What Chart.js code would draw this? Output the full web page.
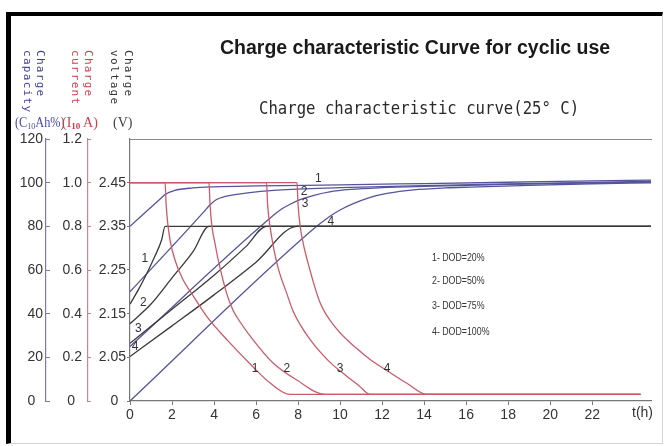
<!DOCTYPE html>
<html><head><meta charset="utf-8">
<script src="https://cdn.jsdelivr.net/npm/chart.js@4"></script>
<style>
html,body{margin:0;padding:0;background:#fff;}
#wrap{position:relative;width:665px;height:446px;overflow:hidden;background:#fff;}
#frame{position:absolute;left:6px;top:12px;width:651px;height:427px;border-top:4px solid #000;border-left:5px solid #000;border-right:1px solid #d4d4d4;border-bottom:1px solid #d4d4d4;}
canvas{position:absolute;left:0;top:0;}
.t{position:absolute;white-space:nowrap;}
.title{left:220px;top:38px;font:bold 19.5px "Liberation Sans",Arial,sans-serif;line-height:19.5px;color:#1a1a1a;}
.sub{left:259px;top:99.6px;font:17px "DejaVu Sans Mono",monospace;line-height:17px;color:#2a2a2a;transform:scaleX(0.92);transform-origin:0 0;}
.vt{position:absolute;top:50px;writing-mode:vertical-rl;font:11px "DejaVu Sans Mono",monospace;letter-spacing:1.3px;line-height:13px;white-space:nowrap;}
.un{position:absolute;top:115px;font:14px "Liberation Serif","Times New Roman",serif;line-height:16px;white-space:nowrap;}
.un sub{font-size:9px;vertical-align:-2px;line-height:0;}
.dod{position:absolute;left:432px;font:11px "Liberation Sans",Arial,sans-serif;line-height:12px;color:#333;transform:scaleX(0.8);transform-origin:0 0;white-space:nowrap;}
</style></head>
<body>
<div id="wrap">
<div id="frame"></div>
<canvas id="c" width="665" height="446"></canvas>
<div class="t title">Charge characteristic Curve for cyclic use</div>
<div class="t sub">Charge characteristic curve(25° C)</div>
<div class="vt" style="left:34px;color:#3f3f8f">Charge</div>
<div class="vt" style="left:20.5px;color:#3f3f8f">capacity</div>
<div class="vt" style="left:81.5px;color:#d04050">Charge</div>
<div class="vt" style="left:68.5px;color:#d04050">current</div>
<div class="vt" style="left:122px;color:#333">Charge</div>
<div class="vt" style="left:107.5px;color:#333">voltage</div>
<div class="un" style="left:15px;color:#4a4aa0;transform:scaleX(0.88);transform-origin:0 0">(C<sub>10</sub>Ah%)</div>
<div class="un" style="left:62px;color:#d03c4c">(I<sub><b>10</b></sub> A)</div>
<div class="un" style="left:113px;color:#444">(V)</div>
<div class="dod" style="top:250.5px">1- DOD=20%</div>
<div class="dod" style="top:274px">2- DOD=50%</div>
<div class="dod" style="top:298.5px">3- DOD=75%</div>
<div class="dod" style="top:324.5px">4- DOD=100%</div>
</div>
<script>
// ---- tick values / labels ----
const X_TICKS = [0,2,4,6,8,10,12,14,16,18,20,22];
const CAP_TICKS = [0,20,40,60,80,100,120];
const CAP_TICK_LABELS = ['0  ','20','40','60','80','100','120'];
const CUR_TICKS = [0,0.2,0.4,0.6,0.8,1.0,1.2];
const CUR_TICK_LABELS = ['0\u2002','0.2','0.4','0.6','0.8','1.0','1.2'];
const VOLT_TICKS = [1.95,2.05,2.15,2.25,2.35,2.45];
const VOLT_TICK_LABELS = ['0  ','2.05','2.15','2.25','2.35','2.45'];

// ---- charge current (I10 A) ----
const cur1T = [0,1.67,1.72,1.8,1.92,2.14,2.5,2.95,3.67,4.62,5.86,6.67,7.62,24.3];
const cur1I = [1.0,1.0,0.9,0.81,0.73,0.646,0.56,0.49,0.385,0.28,0.156,0.082,0.03,0.03];
const cur2T = [0,3.76,3.81,3.9,4.05,4.2,4.6,4.9,5.08,5.86,6.81,7.94,9.29,24.3];
const cur2I = [1.0,1.0,0.9,0.8,0.72,0.646,0.493,0.417,0.386,0.28,0.174,0.096,0.03,0.03];
const cur3T = [0,6.5,6.55,6.65,6.8,7.05,7.46,7.75,8.1,8.55,9.05,9.6,10.3,10.9,11.43,24.3];
const cur3I = [1.0,1.0,0.9,0.81,0.72,0.61,0.493,0.415,0.35,0.285,0.225,0.17,0.115,0.07,0.03,0.03];
const cur4T = [0,7.95,8.0,8.1,8.25,8.48,9.05,9.84,10.8,11.43,12.3,13.2,14.13,24.3];
const cur4I = [1.0,1.0,0.9,0.8,0.72,0.63,0.45,0.33,0.24,0.19,0.135,0.08,0.03,0.03];

// ---- charge voltage (V) ----
const volt1T = [0,0.4,0.8,1.2,1.5,1.67,24.8];
const volt1V = [2.172,2.205,2.242,2.283,2.318,2.35,2.35];
const volt2T = [0,1,2,3,3.76,24.8];
const volt2V = [2.127,2.172,2.232,2.292,2.35,2.35];
const volt3T = [0,2,4,5.5,6.5,24.8];
const volt3V = [2.082,2.16,2.238,2.303,2.35,2.35];
const volt4T = [0,2,4,6,7.95,24.8];
const volt4V = [2.052,2.122,2.193,2.268,2.35,2.35];

// ---- charge capacity (C10Ah %) ----
const cap1T = [0,1.5,1.67,2.1,3,4,6,10,14,18,22,24.8];
const cap1C = [80,93.1,94.6,96.4,97.6,98.1,98.5,99.0,99.6,100.2,100.8,101.2];
const cap2T = [0,3.5,3.8,4.1,4.5,5.5,7,10,14,18,22,24.8];
const cap2C = [50,86.5,89.8,92.2,93.6,95.2,96.6,97.7,98.6,99.4,100.1,100.6];
const cap3T = [0,6.8,7.2,7.6,8.1,8.8,9.5,10.5,12,14,18,22,24.8];
const cap3C = [25,84.8,87.8,90.0,92.2,94.3,95.8,96.9,97.7,98.3,99.2,99.9,100.2];
const cap4T = [0,8.7,9.5,10.0,10.6,11.4,12.3,13.5,15,16.2,19,22,24.8];
const cap4C = [0,78.5,84.5,87.5,90.3,93.2,95.2,96.7,97.6,98.0,98.8,99.5,99.9];

// ---- curve number annotations (text, axis, t, value) ----
const CURVE_LABELS = [
  {text:'1', axis:'yV', t:0.71, v:2.277},
  {text:'2', axis:'yV', t:0.63, v:2.174},
  {text:'3', axis:'yV', t:0.40, v:2.116},
  {text:'4', axis:'yV', t:0.24, v:2.074},
  {text:'1', axis:'yC', t:8.97, v:102.0},
  {text:'2', axis:'yC', t:8.29, v:95.9},
  {text:'3', axis:'yC', t:8.33, v:90.6},
  {text:'4', axis:'yC', t:9.56, v:82.1},
  {text:'1', axis:'yI', t:5.95, v:0.147},
  {text:'2', axis:'yI', t:7.46, v:0.147},
  {text:'3', axis:'yI', t:10.0, v:0.147},
  {text:'4', axis:'yI', t:12.24, v:0.147}
];

const CAP_COLOR = '#55559c', VOLT_COLOR = '#3a3a3a', CUR_COLOR = '#cc5a68';
const pts = (ts, vs) => ts.map((t, i) => ({x: t, y: vs[i]}));
const line = (ts, vs, axis, color) => ({
  data: pts(ts, vs), yAxisID: axis, borderColor: color, borderWidth: 1.3,
  pointRadius: 0, fill: false, cubicInterpolationMode: 'monotone'
});

Chart.defaults.font.family = '"Liberation Sans", Arial, sans-serif';
Chart.defaults.font.size = 14;
Chart.defaults.color = '#333';

const labelPlugin = {
  id: 'curveLabels',
  afterDatasetsDraw(chart) {
    const {ctx, scales, chartArea} = chart;
    ctx.save();
    ctx.fillStyle = '#333';
    ctx.font = '12px "Liberation Sans", Arial, sans-serif';
    ctx.textAlign = 'center';
    ctx.textBaseline = 'middle';
    for (const L of CURVE_LABELS) {
      ctx.fillText(L.text, scales.x.getPixelForValue(L.t), scales[L.axis].getPixelForValue(L.v));
    }
    ctx.font = '14px "Liberation Sans", Arial, sans-serif';
    ctx.textAlign = 'right';
    ctx.fillText('t(h)', chartArea.right + 2, scales.x.top + 12);
    ctx.restore();
  }
};

const setTicks = arr => s => { s.ticks = arr.map(v => ({value: v})); };

new Chart(document.getElementById('c'), {
  type: 'line',
  data: {
    datasets: [
      line(cur1T, cur1I, 'yI', CUR_COLOR), line(cur2T, cur2I, 'yI', CUR_COLOR),
      line(cur3T, cur3I, 'yI', CUR_COLOR), line(cur4T, cur4I, 'yI', CUR_COLOR),
      line(volt1T, volt1V, 'yV', VOLT_COLOR), line(volt2T, volt2V, 'yV', VOLT_COLOR),
      line(volt3T, volt3V, 'yV', VOLT_COLOR), line(volt4T, volt4V, 'yV', VOLT_COLOR),
      line(cap1T, cap1C, 'yC', CAP_COLOR), line(cap2T, cap2C, 'yC', CAP_COLOR),
      line(cap3T, cap3C, 'yC', CAP_COLOR), line(cap4T, cap4C, 'yC', CAP_COLOR)
    ]
  },
  options: {
    responsive: false, animation: false, devicePixelRatio: 1,
    layout: {padding: {top: 139, right: 14, left: 0, bottom: 0}},
    plugins: {legend: {display: false}, tooltip: {enabled: false}},
    scales: {
      x: {
        type: 'linear', position: 'bottom', min: 0, max: 24.8,
        afterBuildTicks: setTicks(X_TICKS),
        afterFit: s => { s.height = 45; },
        grid: {drawOnChartArea: false, drawTicks: true, tickLength: 4, color: '#777'},
        border: {display: true, color: '#777', width: 1.3},
        ticks: {autoSkip: false, maxRotation: 0, padding: 2, color: '#333', font: {size: 14}}
      },
      xTop: {
        type: 'linear', position: 'top', min: 0, max: 24.8,
        afterFit: s => { s.height = 0; },
        grid: {display: false, drawTicks: false},
        border: {display: true, color: '#8a8a8a', width: 1},
        ticks: {display: false}
      },
      yC: {
        type: 'linear', position: 'left', weight: 2, min: 0, max: 120,
        afterBuildTicks: setTicks(CAP_TICKS),
        afterFit: s => { s.width = 46; },
        grid: {drawOnChartArea: false, drawTicks: true, tickLength: -4, color: '#7a7ab4'},
        border: {display: true, color: '#7a7ab4', width: 1.2},
        ticks: {autoSkip: false, padding: 7, color: '#333', font: {size: 14},
                callback: (v, i) => CAP_TICK_LABELS[i]}
      },
      yI: {
        type: 'linear', position: 'left', weight: 1, min: 0, max: 1.2,
        afterBuildTicks: setTicks(CUR_TICKS),
        afterFit: s => { s.width = 42; },
        grid: {drawOnChartArea: false, drawTicks: true, tickLength: -3, color: '#d6808c'},
        border: {display: true, color: '#d6808c', width: 1.2},
        ticks: {autoSkip: false, padding: 9, color: '#333', font: {size: 14},
                callback: (v, i) => CUR_TICK_LABELS[i]}
      },
      yV: {
        type: 'linear', position: 'left', weight: 0, min: 1.95, max: 2.55,
        afterBuildTicks: setTicks(VOLT_TICKS),
        afterFit: s => { s.width = 42; },
        grid: {drawOnChartArea: false, drawTicks: true, tickLength: 3, color: '#777'},
        border: {display: true, color: '#777', width: 1.2},
        ticks: {autoSkip: false, padding: 1, color: '#333', font: {size: 14},
                callback: (v, i) => VOLT_TICK_LABELS[i]}
      }
    }
  },
  plugins: [labelPlugin]
});
</script>
</body></html>
